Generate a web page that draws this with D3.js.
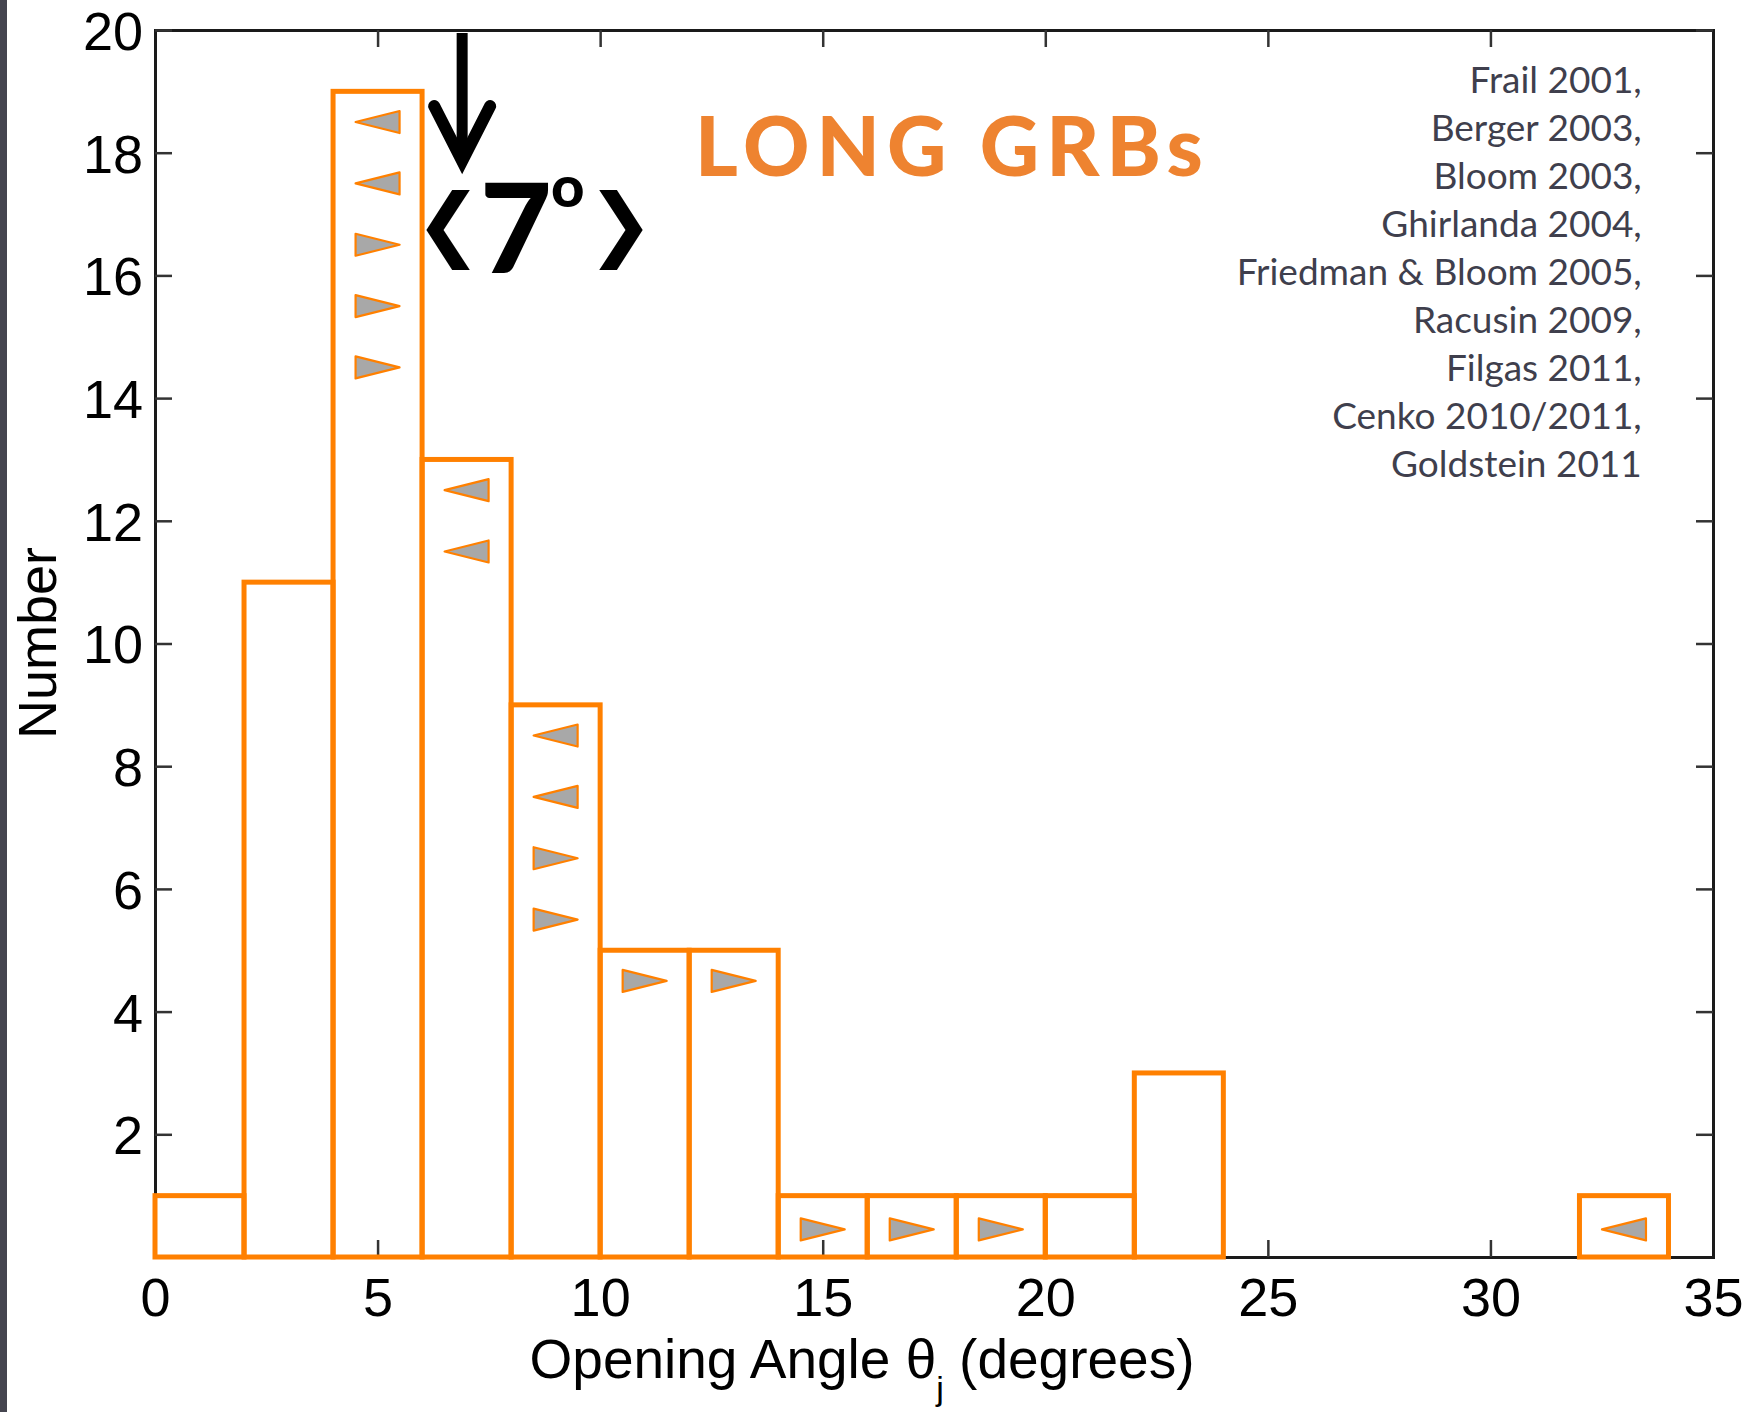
<!DOCTYPE html>
<html>
<head>
<meta charset="utf-8">
<script src="https://cdn.jsdelivr.net/npm/d3@7"></script>
<style>
  body { margin: 0; background: #fff; }
  svg { display: block; }
</style>
</head>
<body>
<div id="chart"></div>
<script>
// histogram bins (2 degree wide)
const binStarts = [0, 2, 4, 6, 8, 10, 12, 14, 16, 18, 20, 22, 24, 26, 28, 30, 32];
const binCounts = [1, 11, 19, 13, 9, 5, 5, 1, 1, 1, 1, 3, 0, 0, 0, 0, 1];
const binWidth = 2;

// upper / lower limit markers
const limitX = [5, 5, 5, 5, 5, 7, 7, 9, 9, 9, 9, 11, 13, 15, 17, 19, 33];
const limitY = [18.5, 17.5, 16.5, 15.5, 14.5, 12.5, 11.5, 8.5, 7.5, 6.5, 5.5, 4.5, 4.5, 0.45, 0.45, 0.45, 0.45];
const limitDir = ["L", "L", "R", "R", "R", "L", "L", "L", "L", "R", "R", "R", "R", "R", "R", "R", "L"];

const xTicks = [0, 5, 10, 15, 20, 25, 30, 35];
const yTicks = [2, 4, 6, 8, 10, 12, 14, 16, 18, 20];

const meanAngle = 6.9;
const references = [
  "Frail 2001,", "Berger 2003,", "Bloom 2003,", "Ghirlanda 2004,",
  "Friedman & Bloom 2005,", "Racusin 2009,", "Filgas 2011,",
  "Cenko 2010/2011,", "Goldstein 2011"
];

const W = 1750, H = 1412;
const margin = {top: 30, right: 37, bottom: 155, left: 155};
const width = W - margin.left - margin.right;
const height = H - margin.top - margin.bottom;

const orange = "#ff8000";

const root = d3.select("#chart").append("svg")
  .attr("width", W)
  .attr("height", H);

root.append("rect").attr("x", 0).attr("y", 0).attr("width", W).attr("height", H).attr("fill", "#fff");
// dark slide edge on the left
root.append("rect").attr("x", 0).attr("y", 0).attr("width", 7).attr("height", H).attr("fill", "#45454f");

const svg = root.append("g").attr("transform", `translate(${margin.left},${margin.top})`);

const x = d3.scaleLinear().domain([0, 35]).range([0, width]);
const y = d3.scaleLinear().domain([0, 20]).range([height, 0]);

// axes box with inward ticks
const tickLen = 17;
const axisFont = "'Liberation Sans', Arial, sans-serif";

svg.append("g")
  .attr("transform", `translate(0,${height})`)
  .call(d3.axisBottom(x).tickValues(xTicks).tickSize(-tickLen).tickPadding(21))
  .call(g => g.selectAll("text").attr("font-size", 54).attr("font-family", axisFont).attr("fill", "#000"));

svg.append("g")
  .call(d3.axisTop(x).tickValues(xTicks).tickSize(-tickLen).tickFormat(""));

svg.append("g")
  .call(d3.axisLeft(y).tickValues(yTicks).tickSize(-tickLen).tickPadding(12))
  .call(g => g.selectAll("text").attr("font-size", 54).attr("font-family", axisFont).attr("fill", "#000").attr("dy", "0.36em"));

svg.append("g")
  .attr("transform", `translate(${width},0)`)
  .call(d3.axisRight(y).tickValues(yTicks).tickSize(-tickLen).tickFormat(""));

svg.selectAll(".domain").attr("stroke", "#1a1a1a").attr("stroke-width", 3);
svg.selectAll(".tick line").attr("stroke", "#333").attr("stroke-width", 2.5);

// histogram bars
const bins = binStarts.map((s, i) => ({x0: s, x1: s + binWidth, n: binCounts[i]}))
  .filter(d => d.n > 0);

svg.append("g").selectAll("rect")
  .data(bins)
  .join("rect")
  .attr("x", d => x(d.x0))
  .attr("y", d => y(d.n))
  .attr("width", d => x(d.x1) - x(d.x0))
  .attr("height", d => y(0) - y(d.n))
  .attr("fill", "none")
  .attr("stroke", orange)
  .attr("stroke-width", 5);

// limit triangles
const triW = 44, triH = 22;
const limits = limitX.map((v, i) => ({x: v, y: limitY[i], dir: limitDir[i]}));
svg.append("g").selectAll("path")
  .data(limits)
  .join("path")
  .attr("transform", d => `translate(${x(d.x)},${y(d.y)})`)
  .attr("d", d => d.dir === "R"
    ? `M${-triW/2},${-triH/2}L${triW/2},0L${-triW/2},${triH/2}Z`
    : `M${triW/2},${-triH/2}L${-triW/2},0L${triW/2},${triH/2}Z`)
  .attr("fill", "#a8a8a8")
  .attr("stroke", orange)
  .attr("stroke-width", 2.2)
  .attr("stroke-linejoin", "round");

// mean angle arrow
const ax = x(meanAngle);
svg.append("line")
  .attr("x1", ax).attr("x2", ax)
  .attr("y1", 3).attr("y2", 128)
  .attr("stroke", "#000").attr("stroke-width", 11);
svg.append("path")
  .attr("d", `M${ax - 28},${76}L${ax},${131}L${ax + 28},${76}`)
  .attr("fill", "none")
  .attr("stroke", "#000")
  .attr("stroke-width", 12)
  .attr("stroke-linecap", "round")
  .attr("stroke-linejoin", "miter");

// <7°> label
const meanG = svg.append("g").attr("font-family", "Lato, 'DejaVu Sans', sans-serif").attr("font-weight", 900).attr("fill", "#000");
meanG.append("text").attr("x", 260).attr("y", 221).attr("font-family", "'DejaVu Sans', sans-serif").attr("font-weight", "bold").attr("font-size", 80).text("❮");
meanG.append("text").attr("x", 325).attr("y", 243).attr("font-size", 124).text("7");
meanG.append("text").attr("x", 396).attr("y", 177).attr("font-size", 58).text("o");
meanG.append("text").attr("x", 432).attr("y", 221).attr("font-family", "'DejaVu Sans', sans-serif").attr("font-weight", "bold").attr("font-size", 80).text("❯");

// LONG GRBs
svg.append("text")
  .attr("x", 540)
  .attr("y", 146)
  .attr("font-family", "Lato, sans-serif")
  .attr("font-weight", 900)
  .attr("font-size", 82)
  .attr("letter-spacing", 7)
  .attr("fill", "#ee8330")
  .text("LONG GRBs");

// references list
svg.append("g").selectAll("text")
  .data(references)
  .join("text")
  .attr("x", x(33.4))
  .attr("y", (d, i) => 63 + i * 48)
  .attr("text-anchor", "end")
  .attr("font-family", "Lato, sans-serif")
  .attr("font-size", 37)
  .attr("fill", "#3f3f4d")
  .text(d => d);

// axis labels
const xl = root.append("text")
  .attr("x", 862)
  .attr("y", 1378)
  .attr("text-anchor", "middle")
  .attr("font-family", axisFont)
  .attr("font-size", 55)
  .attr("fill", "#000");
xl.append("tspan").text("Opening Angle θ");
xl.append("tspan").attr("font-size", 34).attr("dy", 22).text("j");
xl.append("tspan").attr("dy", -22).text(" (degrees)");

root.append("text")
  .attr("transform", "translate(56,643) rotate(-90)")
  .attr("text-anchor", "middle")
  .attr("font-family", axisFont)
  .attr("font-size", 54)
  .attr("fill", "#000")
  .text("Number");
</script>
</body>
</html>
